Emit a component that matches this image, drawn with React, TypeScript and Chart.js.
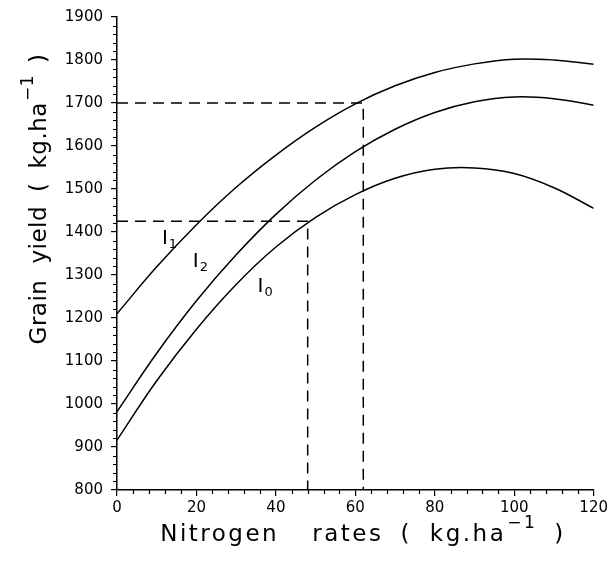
import React, { useEffect, useRef } from "react";
import { Chart, registerables } from "chart.js";

Chart.register(...registerables);

// ---- data ----
const nitrogenRates = [0, 10, 20, 30, 40, 50, 60, 70, 80, 90, 100, 110, 120];
const yieldI1 = [1210, 1319, 1417, 1504, 1579, 1644, 1698, 1740, 1771, 1791, 1802, 1800, 1790];
const yieldI2 = [982, 1118, 1240, 1347, 1441, 1521, 1587, 1639, 1678, 1703, 1714, 1710, 1695];
const yieldI0 = [916, 1054, 1174, 1278, 1365, 1434, 1487, 1525, 1546, 1549, 1536, 1503, 1455];

const xTickValues = [0, 20, 40, 60, 80, 100, 120];
const yTickValues = [800, 900, 1000, 1100, 1200, 1300, 1400, 1500, 1600, 1700, 1800, 1900];

const guideHighRate = 62;
const guideHighYield = 1700;
const guideLowRate = 48;
const guideLowYield = 1425;

const curveLabelNames = ["I", "I", "I"];
const curveLabelSubs = ["1", "2", "0"];
const curveLabelX = [11.3, 19.1, 35.4];
const curveLabelY = [1372, 1319, 1261];

// title pieces: [text, isSuperscript]
const xTitleWords = ["Nitrogen", "rates", "(", "kg.ha", "\u22121", ")"];
const yTitleWords = ["Grain", "yield", "(", "kg.ha", "\u22121", ")"];

const FONT = "'DejaVu Sans', sans-serif";

function pts(xs: number[], ys: number[]) {
  return xs.map((x, i) => ({ x, y: ys[i] }));
}

// words: list of texts; index 4 is the superscript; gaps: px after each word
function drawTitle(
  ctx: CanvasRenderingContext2D,
  words: string[],
  gaps: number[],
  size: number,
  supSize: number,
  spacing: number
) {
  const widths: number[] = [];
  (ctx as any).letterSpacing = `${spacing}px`;
  words.forEach((w, i) => {
    ctx.font = `${i === 4 ? supSize : size}px ${FONT}`;
    widths.push(ctx.measureText(w).width);
  });
  const total = widths.reduce((a, b) => a + b, 0) + gaps.reduce((a, b) => a + b, 0);
  let x = -total / 2;
  ctx.textAlign = "left";
  ctx.textBaseline = "alphabetic";
  words.forEach((w, i) => {
    const sup = i === 4;
    ctx.font = `${sup ? supSize : size}px ${FONT}`;
    ctx.fillText(w, x, sup ? -size * 0.58 : 0);
    x += widths[i] + gaps[i];
  });
  (ctx as any).letterSpacing = "0px";
}

const decorPlugin = {
  id: "decor",
  afterDraw(chart: any) {
    const ctx: CanvasRenderingContext2D = chart.ctx;
    const xs = chart.scales.x;
    const ys = chart.scales.y;
    const area = chart.chartArea;
    ctx.save();
    ctx.strokeStyle = "#000";
    ctx.fillStyle = "#000";
    ctx.lineWidth = 1.2;
    // minor ticks
    ctx.beginPath();
    for (let v = 0; v <= 120; v += 4) {
      if (v % 20 === 0) continue;
      const px = Math.round(xs.getPixelForValue(v)) + 0.5;
      ctx.moveTo(px, area.bottom);
      ctx.lineTo(px, area.bottom + 4);
    }
    for (let v = 800; v <= 1900; v += 20) {
      if (v % 100 === 0) continue;
      const py = Math.round(ys.getPixelForValue(v)) + 0.5;
      ctx.moveTo(area.left, py);
      ctx.lineTo(area.left - 4, py);
    }
    ctx.stroke();

    // curve labels
    for (let i = 0; i < curveLabelNames.length; i++) {
      const px = xs.getPixelForValue(curveLabelX[i]);
      const py = ys.getPixelForValue(curveLabelY[i]);
      ctx.textAlign = "left";
      ctx.textBaseline = "alphabetic";
      ctx.font = `20px ${FONT}`;
      ctx.fillText(curveLabelNames[i], px, py);
      const w = ctx.measureText(curveLabelNames[i]).width;
      ctx.font = `13px ${FONT}`;
      ctx.fillText(curveLabelSubs[i], px + w + 1, py + 4);
    }

    // x title
    ctx.save();
    ctx.translate(363, 541);
    drawTitle(ctx, xTitleWords, [33, 17, 18, 1, 17, 0], 23, 17, 2.5);
    ctx.restore();

    // y title
    ctx.save();
    ctx.translate(46, 199);
    ctx.rotate(-Math.PI / 2);
    drawTitle(ctx, yTitleWords, [16, 14, 14, 1, 12, 0], 23, 17, 0.5);
    ctx.restore();

    ctx.restore();
  },
};

export default function App() {
  const ref = useRef<HTMLCanvasElement | null>(null);

  useEffect(() => {
    document.body.style.margin = "0";
    const canvas = ref.current;
    if (!canvas) return;
    const curveStyle = {
      borderColor: "#000",
      borderWidth: 1.5,
      pointRadius: 0,
      fill: false,
      tension: 0.4,
    };
    const guideStyle = {
      borderColor: "#000",
      borderWidth: 1.5,
      borderDash: [11, 7],
      pointRadius: 0,
      fill: false,
      tension: 0,
    };
    const chart = new Chart(canvas, {
      type: "line",
      data: {
        datasets: [
          { label: "I1", data: pts(nitrogenRates, yieldI1), ...curveStyle },
          { label: "I2", data: pts(nitrogenRates, yieldI2), ...curveStyle },
          { label: "I0", data: pts(nitrogenRates, yieldI0), ...curveStyle },
          {
            label: "guide high",
            data: [
              { x: 0, y: guideHighYield },
              { x: guideHighRate, y: guideHighYield },
              { x: guideHighRate, y: 800 },
            ],
            ...guideStyle,
          },
          {
            label: "guide low",
            data: [
              { x: 0, y: guideLowYield },
              { x: guideLowRate, y: guideLowYield },
              { x: guideLowRate, y: 800 },
            ],
            ...guideStyle,
          },
        ],
      },
      options: {
        animation: false,
        responsive: false,
        layout: { padding: { top: 13, right: 16, left: 0, bottom: 0 } },
        plugins: { legend: { display: false }, tooltip: { enabled: false }, title: { display: false } },
        scales: {
          x: {
            type: "linear",
            min: 0,
            max: 120,
            afterBuildTicks: (scale: any) => {
              scale.ticks = xTickValues.map((v) => ({ value: v }));
            },
            afterFit: (scale: any) => {
              scale.height = 74;
            },
            ticks: {
              color: "#000",
              font: { family: FONT, size: 15 },
              padding: 3,
              maxRotation: 0,
              callback: (v: any) => String(v),
            },
            grid: { drawOnChartArea: false, drawTicks: true, tickLength: 6, color: "#000", lineWidth: 1.2 },
            border: { display: true, color: "#000", width: 1.5 },
          },
          y: {
            type: "linear",
            min: 800,
            max: 1900,
            afterBuildTicks: (scale: any) => {
              scale.ticks = yTickValues.map((v) => ({ value: v }));
            },
            afterFit: (scale: any) => {
              scale.width = 117;
            },
            ticks: { color: "#000", font: { family: FONT, size: 15 }, padding: 8, callback: (v: any) => String(v) },
            grid: { drawOnChartArea: false, drawTicks: true, tickLength: 6, color: "#000", lineWidth: 1.2 },
            border: { display: true, color: "#000", width: 1.5 },
          },
        },
      },
      plugins: [decorPlugin],
    });
    return () => chart.destroy();
  }, []);

  return (
    <div style={{ width: 611, height: 564 }}>
      <canvas ref={ref} width={611} height={564} style={{ display: "block" }} />
    </div>
  );
}
